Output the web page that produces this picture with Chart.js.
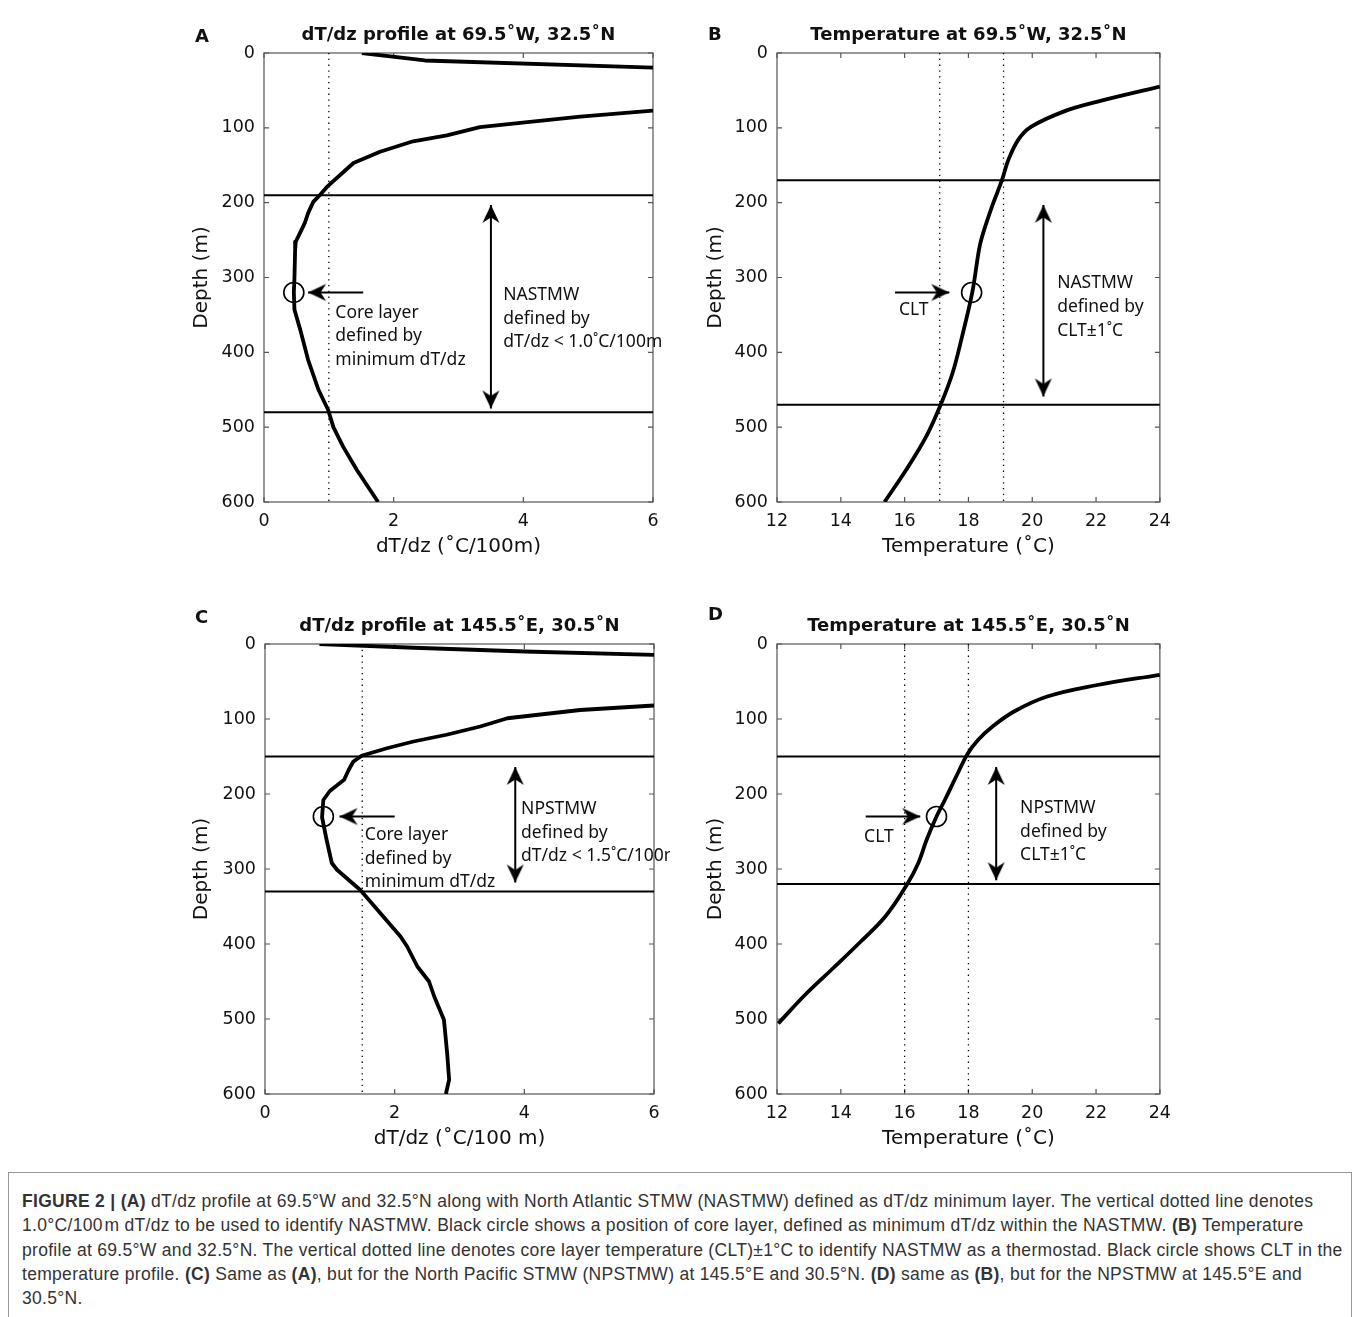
<!DOCTYPE html>
<html>
<head>
<meta charset="utf-8">
<script src="https://cdn.jsdelivr.net/npm/chart.js@4.4.1/dist/chart.umd.min.js"></script>
<style>
  body { margin: 0; background: #fff; width: 1360px; height: 1317px; position: relative; overflow: hidden; }
  canvas { position: absolute; }
  #caption {
    position: absolute; left: 8px; top: 1172px; width: 1344px; height: 170px;
    box-sizing: border-box; border: 1px solid #999; padding: 16px 0 0 13px;
    font-family: "Liberation Sans", Arial, sans-serif; font-size: 17.5px; letter-spacing: 0.3px;
    line-height: 24.3px; color: #333; white-space: nowrap;
  }
</style>
</head>
<body>
<canvas id="panelA" width="500" height="570" style="left:170px;top:0px"></canvas>
<canvas id="panelB" width="480" height="570" style="left:700px;top:0px"></canvas>
<canvas id="panelC" width="500" height="571" style="left:170px;top:591px"></canvas>
<canvas id="panelD" width="480" height="571" style="left:700px;top:591px"></canvas>

<div id="caption">
  <div><b>FIGURE 2 | (A)</b> dT/dz profile at 69.5°W and 32.5°N along with North Atlantic STMW (NASTMW) defined as dT/dz minimum layer. The vertical dotted line denotes</div>
  <div>1.0°C/100&#8202;m dT/dz to be used to identify NASTMW. Black circle shows a position of core layer, defined as minimum dT/dz within the NASTMW. <b>(B)</b> Temperature</div>
  <div>profile at 69.5°W and 32.5°N. The vertical dotted line denotes core layer temperature (CLT)±1°C to identify NASTMW as a thermostad. Black circle shows CLT in the</div>
  <div>temperature profile. <b>(C)</b> Same as <b>(A)</b>, but for the North Pacific STMW (NPSTMW) at 145.5°E and 30.5°N. <b>(D)</b> same as <b>(B)</b>, but for the NPSTMW at 145.5°E and</div>
  <div>30.5°N.</div>
</div>

<script>
// ---- data ----
const depthTicks = [0, 100, 200, 300, 400, 500, 600];
const gradTicks = [0, 2, 4, 6];
const tempTicks = [12, 14, 16, 18, 20, 22, 24];

// (A) dT/dz at 69.5W, 32.5N  (°C/100m vs depth m)
const aTopGrad = [1.51, 2.48, 6.0];
const aTopDepth = [0, 10, 19.6];
const aGrad = [6.0, 4.88, 4.1, 3.33, 2.82, 2.3, 1.79, 1.38, 1.2, 0.97, 0.86, 0.76, 0.68, 0.63, 0.53, 0.49, 0.48, 0.47, 0.46, 0.47, 0.56, 0.68, 0.84, 0.99, 1.07, 1.22, 1.43, 1.76];
const aDepth = [77, 85, 92, 99, 110, 118, 132, 147, 161, 179, 190, 199, 214, 227, 245, 252, 263, 300, 320, 343, 370, 410, 450, 477, 500, 526, 557, 600];

// (B) temperature at 69.5W, 32.5N
const bTemp = [24.0, 22.05, 21.0, 19.97, 19.56, 19.25, 19.05, 18.74, 18.43, 18.33, 18.12, 17.8, 17.5, 17.13, 16.67, 16.05, 15.37];
const bDepth = [45, 65, 78, 98.5, 116, 143, 170, 205, 245, 263, 320, 379, 428, 470, 513, 557, 600];

// (C) dT/dz at 145.5E, 30.5N
const cTopGrad = [0.84, 2.3, 4.0, 6.0];
const cTopDepth = [0, 5, 10, 14.5];
const cGrad = [6.0, 4.86, 3.74, 3.32, 2.8, 2.29, 1.88, 1.49, 1.36, 1.29, 1.22, 1.0, 0.9, 0.88, 0.95, 1.03, 1.11, 1.47, 1.78, 2.09, 2.19, 2.35, 2.53, 2.61, 2.76, 2.81, 2.84, 2.79];
const cDepth = [82, 88, 99, 110, 121, 130, 139, 149, 157, 168, 181, 196, 208, 231, 261, 292, 301, 328, 359, 390, 403, 430, 450, 470, 501, 546, 581, 600];

// (D) temperature at 145.5E, 30.5N
const dTemp = [24.0, 22.0, 20.47, 19.43, 18.7, 18.3, 17.98, 17.67, 17.26, 17.0, 16.69, 16.43, 16.07, 15.4, 14.57, 13.74, 12.92, 12.04];
const dDepth = [41, 55, 70, 90, 112, 128, 146, 172, 208, 230, 261, 292, 321, 363, 399, 433, 466, 506];

// mode water layer bounds (depth), threshold lines, core layer points
const aLayer = [190, 480];
const bLayer = [170, 470];
const cLayer = [150, 330];
const dLayer = [150, 320];
const aThresh = [1.0];
const bThresh = [17.1, 19.1];
const cThresh = [1.5];
const dThresh = [16, 18];
const aCore = [0.46, 320];
const bCore = [18.1, 320];
const cCore = [0.9, 230];
const dCore = [17.0, 230];

const FONT = '"DejaVu Sans", sans-serif';
const NOTE_FONT = '17.5px "Noto Sans", sans-serif';

// arrow head drawn once, tip sits on the point
const head = (() => {
  const c = document.createElement('canvas');
  c.width = 44; c.height = 44;
  const g = c.getContext('2d');
  g.fillStyle = '#000';
  g.beginPath();
  g.moveTo(22, 22);
  g.lineTo(30.5, 40);
  g.lineTo(22, 34.5);
  g.lineTo(13.5, 40);
  g.closePath();
  g.fill();
  return c;
})();

function xy(xs, ys) {
  return xs.map((v, i) => ({ x: v, y: ys[i] }));
}

// frame with inward ticks + text notes
function notes(p) {
  return {
    id: 'notes',
    beforeDatasetsDraw(chart) {
      const { ctx, chartArea: a, scales: { x, y } } = chart;
      ctx.save();
      ctx.strokeStyle = '#555';
      ctx.lineWidth = 1.2;
      ctx.strokeRect(a.left, a.top, a.width, a.height);
      ctx.beginPath();
      x.ticks.forEach(t => {
        const px = x.getPixelForValue(t.value);
        ctx.moveTo(px, a.bottom); ctx.lineTo(px, a.bottom - 5);
        ctx.moveTo(px, a.top); ctx.lineTo(px, a.top + 5);
      });
      y.ticks.forEach(t => {
        const py = y.getPixelForValue(t.value);
        ctx.moveTo(a.left, py); ctx.lineTo(a.left + 5, py);
        ctx.moveTo(a.right, py); ctx.lineTo(a.right - 5, py);
      });
      ctx.stroke();
      ctx.restore();
    },
    afterDraw(chart) {
      const { ctx, scales: { x, y } } = chart;
      ctx.save();
      ctx.fillStyle = '#111';
      ctx.textBaseline = 'middle';
      ctx.textAlign = 'left';
      ctx.font = 'bold 18px ' + FONT;
      ctx.fillText(p.letter, p.letterX, p.letterY);
      ctx.font = NOTE_FONT;
      p.texts.forEach(t => {
        const px = x.getPixelForValue(t.x);
        const py = y.getPixelForValue(t.y);
        t.lines.forEach((s, i) => ctx.fillText(s, px, py + i * 23.6));
      });
      ctx.restore();
    }
  };
}

function makePanel(id, p) {
  const ds = [];
  p.curves.forEach(c => ds.push({
    data: xy(c[0], c[1]), borderColor: '#000', borderWidth: 3.8, pointRadius: 0,
    tension: p.tension, clip: 0, borderJoinStyle: 'round'
  }));
  p.layer.forEach(d => ds.push({
    data: [{ x: p.xMin, y: d }, { x: p.xMax, y: d }], borderColor: '#000', borderWidth: 2, pointRadius: 0
  }));
  p.thresh.forEach(v => ds.push({
    data: [{ x: v, y: 0 }, { x: v, y: 600 }], borderColor: '#000', borderWidth: 1.3,
    borderDash: [1.3, 4.5], pointRadius: 0
  }));
  ds.push({
    data: [{ x: p.core[0], y: p.core[1] }], showLine: false, pointStyle: 'circle', pointRadius: 10,
    pointBorderWidth: 1.6, pointBorderColor: '#000', pointBackgroundColor: 'rgba(0,0,0,0)'
  });
  const s = p.span;
  ds.push({
    data: [{ x: s.x, y: s.from }, { x: s.x, y: s.to }], borderColor: '#000', borderWidth: 2,
    pointStyle: head, pointRadius: 6, pointRotation: [0, 180]
  });
  const q = p.pointer;
  ds.push({
    data: [{ x: q.from, y: q.y }, { x: q.to, y: q.y }], borderColor: '#000', borderWidth: 2,
    pointStyle: head, pointRadius: [0, 6], pointRotation: [0, q.to < q.from ? 270 : 90]
  });

  return new Chart(document.getElementById(id), {
    type: 'line',
    data: { datasets: ds },
    options: {
      responsive: false,
      animation: false,
      events: [],
      layout: { padding: { left: 0, right: p.padRight, top: 0, bottom: 0 } },
      plugins: {
        legend: { display: false },
        tooltip: { enabled: false },
        title: {
          display: true, text: p.title, fullSize: false, color: '#111',
          font: { family: FONT, size: 18, weight: 'bold', lineHeight: 1.2 },
          padding: { top: 25, bottom: 6.4 }
        }
      },
      scales: {
        x: {
          type: 'linear', min: p.xMin, max: p.xMax,
          afterBuildTicks: sc => { sc.ticks = p.xTicks.map(v => ({ value: v })); },
          afterFit: sc => { sc.height = 68; },
          grid: { display: false, drawTicks: false },
          border: { display: false },
          ticks: { padding: 9, autoSkip: false, maxRotation: 0, color: '#111', font: { family: FONT, size: 17.5 } },
          title: {
            display: true, text: p.xTitle, color: '#111',
            font: { family: FONT, size: 20, lineHeight: 1.2 }, padding: { top: 0, bottom: 11 }
          }
        },
        y: {
          type: 'linear', reverse: true, min: 0, max: 600,
          afterBuildTicks: sc => { sc.ticks = depthTicks.map(v => ({ value: v })); },
          afterFit: sc => { sc.width = p.yWidth; },
          grid: { display: false, drawTicks: false },
          border: { display: false },
          ticks: { padding: 9, autoSkip: false, color: '#111', font: { family: FONT, size: 17.5 } },
          title: {
            display: true, text: 'Depth (m)', color: '#111',
            font: { family: FONT, size: 20, lineHeight: 1.2 }, padding: { top: p.yTitlePad, bottom: 0 }
          }
        }
      }
    },
    plugins: [notes(p)]
  });
}

makePanel('panelA', {
  title: 'dT/dz profile at 69.5˚W, 32.5˚N', xTitle: 'dT/dz (˚C/100m)',
  xMin: 0, xMax: 6, xTicks: gradTicks, yWidth: 94, yTitlePad: 20, padRight: 17, tension: 0,
  curves: [[aTopGrad, aTopDepth], [aGrad, aDepth]],
  layer: aLayer, thresh: aThresh, core: aCore,
  span: { x: 3.5, from: 203, to: 475 },
  pointer: { from: 1.53, to: 0.68, y: 320 },
  letter: 'A', letterX: 25, letterY: 37,
  texts: [
    { x: 1.1, y: 347, lines: ['Core layer', 'defined by', 'minimum dT/dz'] },
    { x: 3.69, y: 323.5, lines: ['NASTMW', 'defined by', 'dT/dz < 1.0˚C/100m'] }
  ]
});

makePanel('panelB', {
  title: 'Temperature at 69.5˚W, 32.5˚N', xTitle: 'Temperature (˚C)',
  xMin: 12, xMax: 24, xTicks: tempTicks, yWidth: 77, yTitlePad: 3.5, padRight: 17, tension: 0.35,
  curves: [[bTemp, bDepth]],
  layer: bLayer, thresh: bThresh, core: bCore,
  span: { x: 20.35, from: 203, to: 459 },
  pointer: { from: 15.7, to: 17.4, y: 320 },
  letter: 'B', letterX: 8, letterY: 35,
  texts: [
    { x: 15.82, y: 343.6, lines: ['CLT'] },
    { x: 20.78, y: 308, lines: ['NASTMW', 'defined by', 'CLT±1˚C'] }
  ]
});

makePanel('panelC', {
  title: 'dT/dz profile at 145.5˚E, 30.5˚N', xTitle: 'dT/dz (˚C/100 m)',
  xMin: 0, xMax: 6, xTicks: gradTicks, yWidth: 95, yTitlePad: 20, padRight: 16, tension: 0,
  curves: [[cTopGrad, cTopDepth], [cGrad, cDepth]],
  layer: cLayer, thresh: cThresh, core: cCore,
  span: { x: 3.86, from: 164, to: 318 },
  pointer: { from: 2.0, to: 1.15, y: 230 },
  letter: 'C', letterX: 25, letterY: 27,
  texts: [
    { x: 1.54, y: 254.7, lines: ['Core layer', 'defined by', 'minimum dT/dz'] },
    { x: 3.95, y: 220.4, lines: ['NPSTMW', 'defined by', 'dT/dz < 1.5˚C/100m'] }
  ]
});

makePanel('panelD', {
  title: 'Temperature at 145.5˚E, 30.5˚N', xTitle: 'Temperature (˚C)',
  xMin: 12, xMax: 24, xTicks: tempTicks, yWidth: 77, yTitlePad: 3.5, padRight: 16, tension: 0.4,
  curves: [[dTemp, dDepth]],
  layer: dLayer, thresh: dThresh, core: dCore,
  span: { x: 18.87, from: 164, to: 315 },
  pointer: { from: 14.78, to: 16.49, y: 230 },
  letter: 'D', letterX: 8, letterY: 24,
  texts: [
    { x: 14.73, y: 257, lines: ['CLT'] },
    { x: 19.62, y: 219, lines: ['NPSTMW', 'defined by', 'CLT±1˚C'] }
  ]
});
</script>
</body>
</html>
